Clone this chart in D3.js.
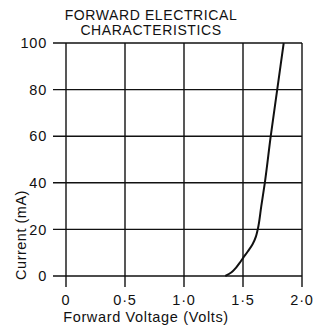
<!DOCTYPE html>
<html>
<head>
<meta charset="utf-8">
<script src="https://cdn.jsdelivr.net/npm/d3@7"></script>
<style>
  body { margin: 0; background: #fff; }
  text { font-family: "Liberation Sans", Arial, sans-serif; fill: #111; }
</style>
</head>
<body>
<div id="chart"></div>
<script>
// forward I-V curve
const voltage = [1.35, 1.40, 1.44, 1.47, 1.50, 1.54, 1.58, 1.61, 1.625, 1.655, 1.685, 1.735, 1.79, 1.845];
const current = [0, 1.5, 3.5, 5.5, 7.7, 10.5, 13.5, 17, 20, 30, 40, 60, 80, 100];
const xTicks = [0, 0.5, 1.0, 1.5, 2.0];
const xTickLabels = ['0', '0·5', '1·0', '1·5', '2·0'];
const yTicks = [0, 20, 40, 60, 80, 100];
const titleLines = ['FORWARD ELECTRICAL', 'CHARACTERISTICS'];

const width = 314, height = 327;
const plotLeft = 66, plotRight = 302, plotTop = 43, plotBottom = 276;
const ext = 11;

const svg = d3.select('#chart').append('svg')
    .attr('width', width).attr('height', height);

const x = d3.scaleLinear().domain([0, 2]).range([plotLeft, plotRight]);
const y = d3.scaleLinear().domain([0, 100]).range([plotBottom, plotTop]);

const grid = svg.append('g').attr('stroke', '#111').attr('stroke-width', 1.4);

// horizontal grid lines, stick out left as ticks
grid.selectAll('line.h').data(yTicks).enter().append('line')
    .attr('x1', plotLeft - 13).attr('x2', plotRight)
    .attr('y1', d => y(d)).attr('y2', d => y(d));

// vertical grid lines, stick out below as ticks
grid.selectAll('line.v').data(xTicks).enter().append('line')
    .attr('x1', d => x(d)).attr('x2', d => x(d))
    .attr('y1', plotTop).attr('y2', plotBottom + ext);

// tick labels
svg.append('g').selectAll('text').data(yTicks).enter().append('text')
    .attr('x', plotLeft - 19).attr('y', d => y(d))
    .attr('dy', '0.36em').attr('text-anchor', 'end')
    .attr('font-size', 14.5).attr('letter-spacing', 0.8)
    .text(d => d);

svg.append('g').selectAll('text').data(xTicks).enter().append('text')
    .attr('x', d => x(d)).attr('y', 305)
    .attr('text-anchor', 'middle').attr('font-size', 14.5)
    .attr('letter-spacing', 0.8)
    .text((d, i) => xTickLabels[i]);

// curve
const pts = voltage.map((v, i) => [v, current[i]]);
svg.append('path').datum(pts)
    .attr('fill', 'none').attr('stroke', '#111').attr('stroke-width', 2)
    .attr('d', d3.line().x(d => x(d[0])).y(d => y(d[1])).curve(d3.curveMonotoneY));

// titles
svg.append('g').selectAll('text').data(titleLines).enter().append('text')
    .attr('x', 151).attr('y', (d, i) => 19.5 + i * 15)
    .attr('text-anchor', 'middle').attr('font-size', 14)
    .attr('letter-spacing', 0.6)
    .text(d => d);

svg.append('text')
    .attr('x', 146).attr('y', 322)
    .attr('text-anchor', 'middle').attr('font-size', 14.5)
    .attr('letter-spacing', 0.65)
    .text('Forward Voltage (Volts)');

svg.append('text')
    .attr('transform', 'translate(26,235) rotate(-90)')
    .attr('text-anchor', 'middle').attr('font-size', 14.5)
    .attr('letter-spacing', 0.5)
    .text('Current (mA)');
</script>
</body>
</html>
